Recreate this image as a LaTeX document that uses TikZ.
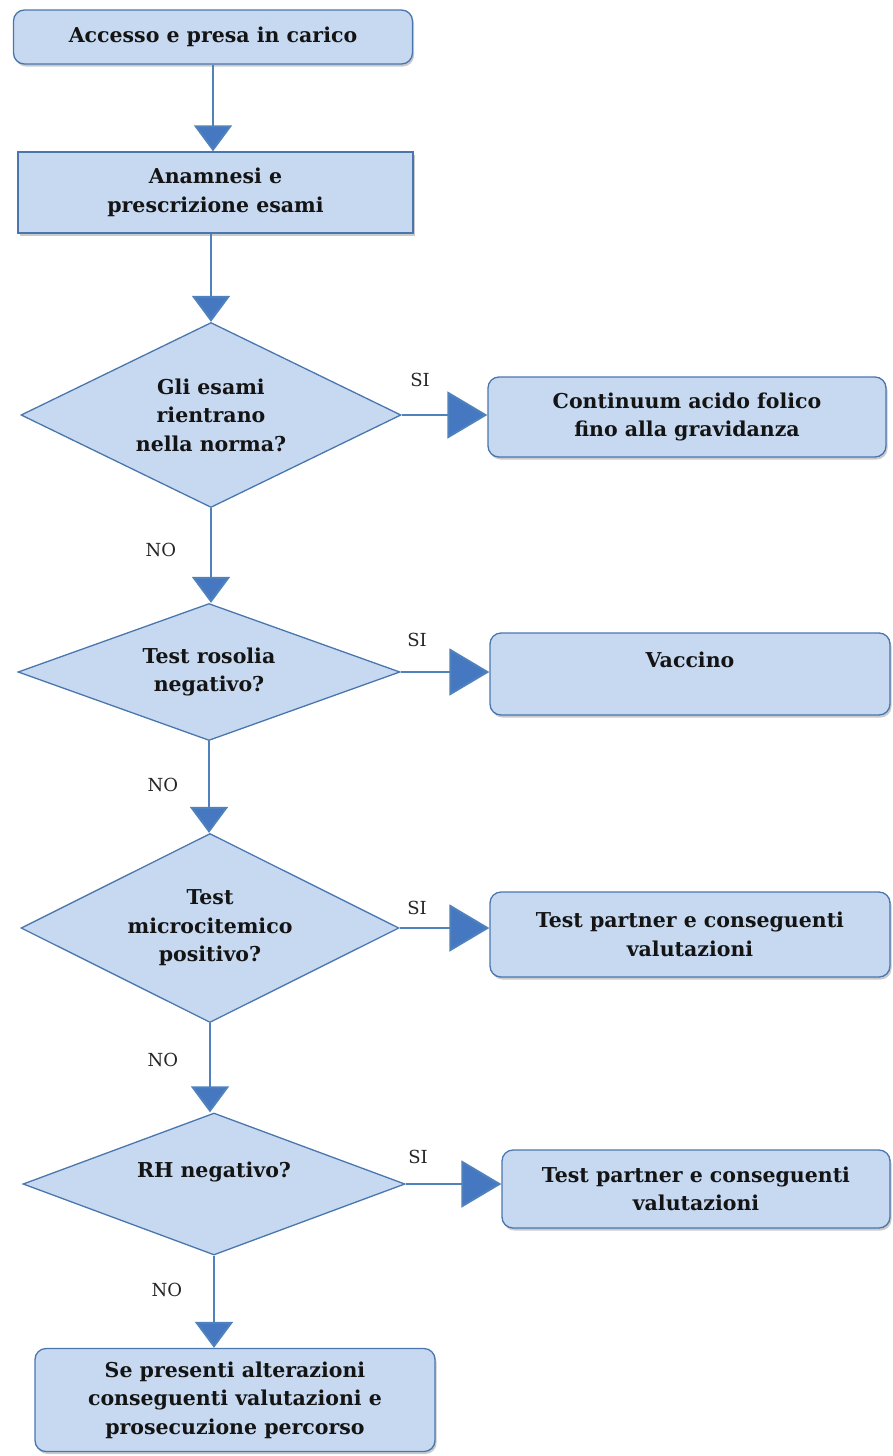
\documentclass[tikz,border=0pt]{standalone}
\usepackage{fontspec}
\setmainfont{DejaVu Serif}
\usetikzlibrary{shapes.geometric,arrows.meta,shadows}
\definecolor{boxfill}{HTML}{C6D9F1}
\definecolor{boxline}{HTML}{4A76AE}
\definecolor{flow}{HTML}{4F81BD}
\definecolor{tipblue}{HTML}{4578C0}
\begin{document}
\begin{tikzpicture}[x=1pt,y=-1pt,
  base/.style={fill=boxfill, draw=boxline, line width=1.3pt,
    font=\bfseries\fontsize{20.5}{28.5}\selectfont, align=center,
    inner sep=0pt, text=black!92},
  shade/.style={drop shadow={shadow xshift=1.5pt, shadow yshift=-2.5pt,
    opacity=0.35, fill=black!60}},
  roundbox/.style={base, shade, rounded corners=11pt},
  squarebox/.style={base, shade},
  decision/.style={base, diamond, shape aspect=2},
  link/.style={draw=flow, line width=2pt},
  down/.style={link, -{Triangle[length=26pt,width=38pt,fill=tipblue]}},
  across/.style={link, -{Triangle[length=40pt,width=47pt,fill=tipblue]}},
  answer/.style={font=\fontsize{18}{20}\selectfont, text=black!85, inner sep=0pt}
]
\useasboundingbox (0,0) rectangle (892,1456);

% main column
\node[roundbox, minimum width=399pt, minimum height=54pt] (access) at (213,37)
  {Accesso e presa in carico};
\node[squarebox, minimum width=395pt, minimum height=81pt] (history) at (215.5,192.5)
  {Anamnesi e\\prescrizione esami};
\node[decision, minimum width=380pt, minimum height=185pt] (exams) at (211,415)
  {Gli esami\\rientrano\\nella norma?};
\node[decision, minimum width=382pt, minimum height=137pt] (rubella) at (209,672)
  {Test rosolia\\negativo?};
\node[decision, minimum width=378pt, minimum height=189pt] (microcyt) at (210,928)
  {Test\\microcitemico\\positivo?};
\node[decision, minimum width=382pt, minimum height=142pt] (rh) at (214,1184)
  {RH negativo?\\\mbox{}};
\node[roundbox, minimum width=400pt, minimum height=103pt] (final) at (235,1400)
  {Se presenti alterazioni\\conseguenti valutazioni e\\prosecuzione percorso};

% outcomes on the right
\node[roundbox, minimum width=398pt, minimum height=80pt] (folic) at (687,417)
  {Continuum acido folico\\fino alla gravidanza};
\node[roundbox, minimum width=400pt, minimum height=82pt] (vaccine) at (690,674)
  {Vaccino\\\mbox{}};
\node[roundbox, minimum width=400pt, minimum height=85pt] (partnerA) at (690,934.5)
  {Test partner e conseguenti\\valutazioni};
\node[roundbox, minimum width=388pt, minimum height=78pt] (partnerB) at (696,1189)
  {Test partner e conseguenti\\valutazioni};

% vertical flow
\draw[down] (access.south) -- (access.south |- history.north);
\draw[down] (exams.north |- history.south) -- (exams.north);
\draw[down] (exams.south) -- (exams.south |- rubella.north);
\draw[down] (rubella.south) -- (rubella.south |- microcyt.north);
\draw[down] (microcyt.south) -- (microcyt.south |- rh.north);
\draw[down] (rh.south) -- (rh.south |- final.north);

% branches to the right
\draw[across] (exams.east) -- (exams.east -| folic.west);
\draw[across] (rubella.east) -- (rubella.east -| vaccine.west);
\draw[across] (microcyt.east) -- (microcyt.east -| partnerA.west);
\draw[across] (rh.east) -- (rh.east -| partnerB.west);

% answers
\node[answer] (si1) at (420,380) {SI};
\node[answer] (si2) at (417,640) {SI};
\node[answer] (si3) at (417,908) {SI};
\node[answer] (si4) at (418,1157) {SI};
\node[answer] (no1) at (161,550) {NO};
\node[answer] (no2) at (163,785) {NO};
\node[answer] (no3) at (163,1060) {NO};
\node[answer] (no4) at (167,1290) {NO};
\end{tikzpicture}
\end{document}
